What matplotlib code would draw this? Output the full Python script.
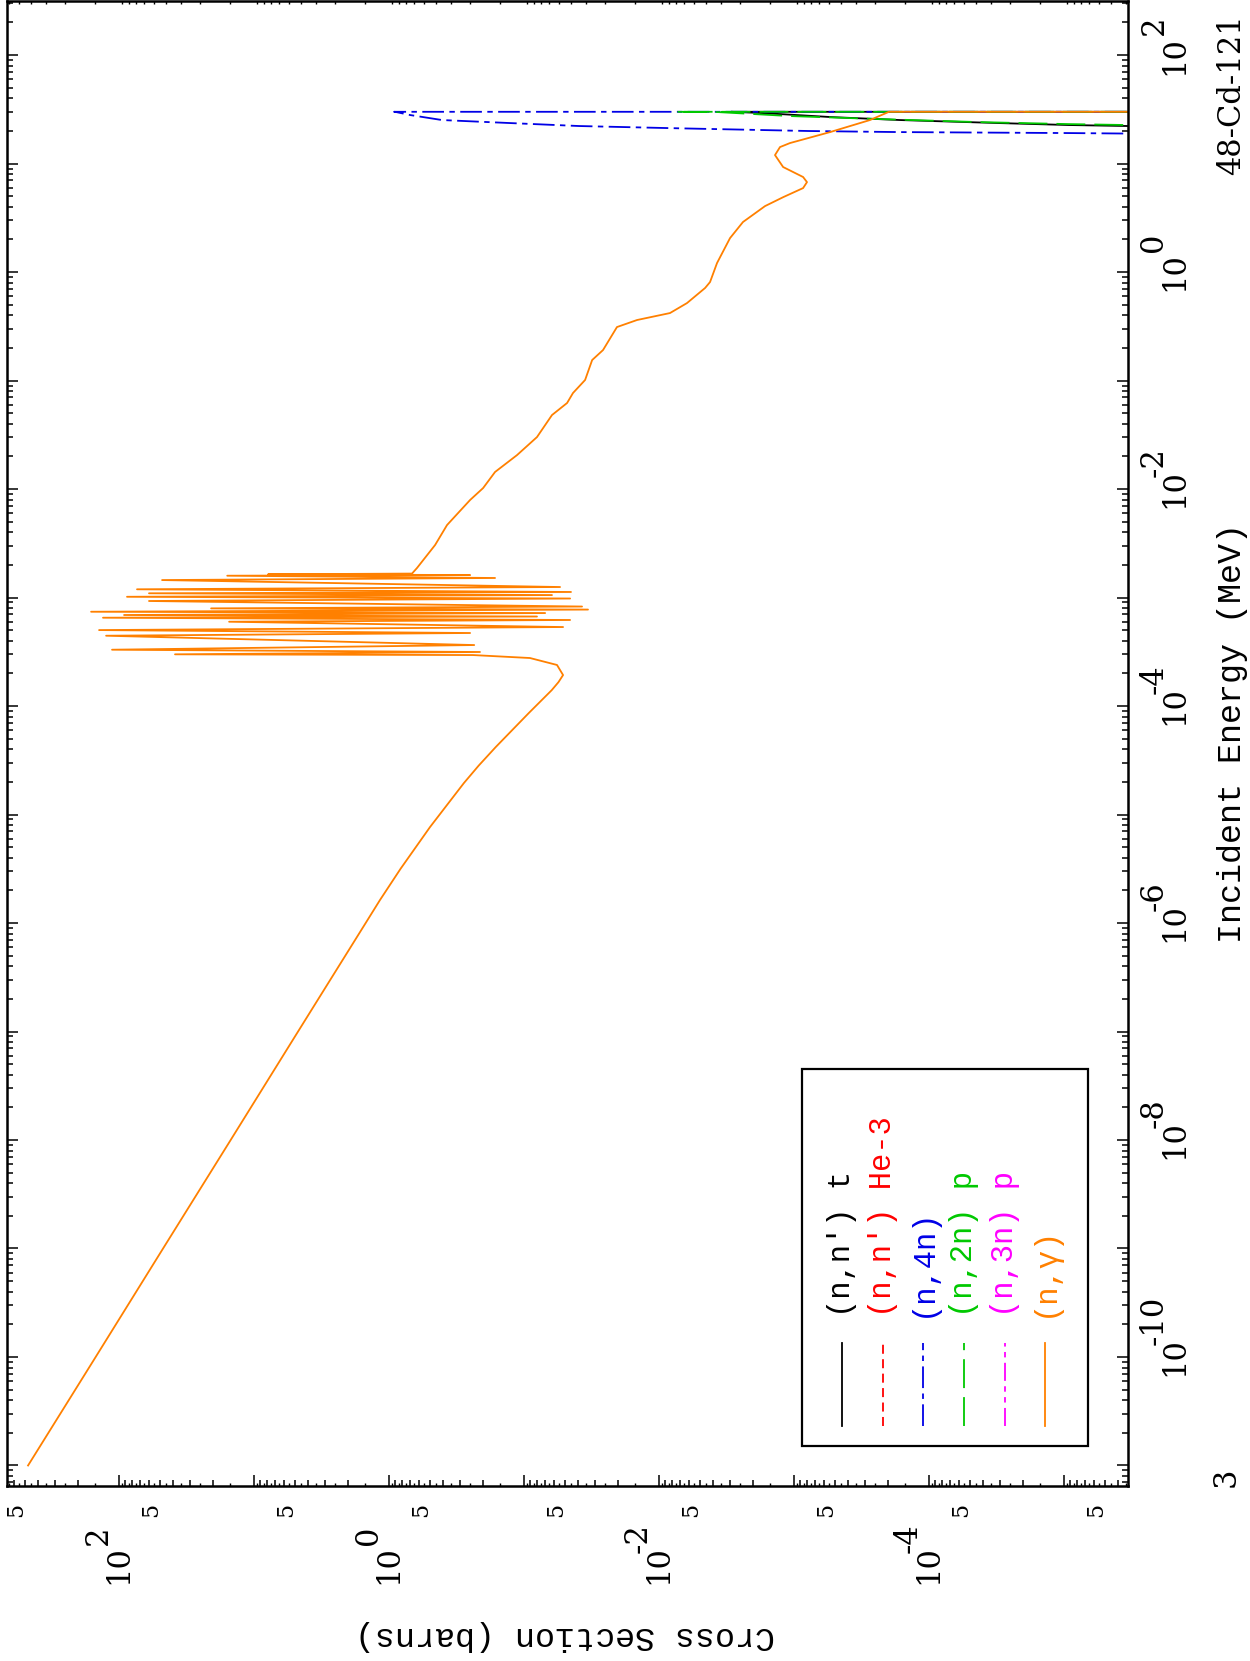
import numpy as np
import matplotlib
matplotlib.use("Agg")
import matplotlib.pyplot as plt
from matplotlib import transforms
from matplotlib.patches import Rectangle
from matplotlib.lines import Line2D
from matplotlib.ticker import LogLocator, FixedLocator, NullLocator, NullFormatter

# --- data: energy (MeV), cross section (barns) ---
ng_E = [1e-11, 1e-10, 1e-9, 1e-8, 1e-7, 1e-6, 1.63e-6, 3.16e-6, 7.67e-6, 1.95e-5, 2.82e-5,
        4.19e-5, 8.61e-5, 1.40e-4, 1.66e-4, 1.93e-4, 2.39e-4, 2.77e-4, 2.95e-4,
        2.996e-4, 3.148e-4, 3.304e-4, 3.648e-4, 4.446e-4, 4.710e-4, 5.012e-4,
        5.346e-4, 5.984e-4, 6.209e-4, 6.516e-4, 6.683e-4, 6.902e-4, 7.194e-4,
        7.396e-4, 7.745e-4, 7.943e-4, 8.260e-4, 9.290e-4, 9.795e-4, 1.016e-3,
        1.054e-3, 1.094e-3, 1.125e-3, 1.191e-3, 1.250e-3, 1.449e-3, 1.514e-3,
        1.589e-3, 1.611e-3, 1.637e-3, 1.663e-3,
        1.871e-3, 3.048e-3, 4.656e-3, 6.012e-3, 7.925e-3, 0.01021, 0.01436,
        0.02056, 0.03013, 0.04808, 0.06209, 0.07674, 0.1012, 0.1545, 0.1910,
        0.3112, 0.3614, 0.4188, 0.5176, 0.7129, 0.8091, 1.211, 2.056, 2.891,
        4.055, 4.909, 5.943, 6.745, 7.516, 9.290, 11.97, 14.19, 15.45, 19.50,
        25.18, 30.0, 30.0]
ng_xs = [472, 149, 47.2, 14.9, 4.72, 1.49, 1.167, 0.822, 0.497, 0.279, 0.217,
         0.162, 0.0923, 0.0624, 0.0556, 0.0514, 0.0570, 0.0904, 0.239,
         38.5, 0.212, 112.7, 0.234, 124.7, 0.251, 140.6,
         0.0514, 15.3, 0.0456, 131.5, 0.0802, 91.8, 0.0698,
         161.1, 0.0336, 20.8, 0.0372, 60.0, 0.0456, 87.3,
         0.0621, 60.0, 0.0449, 73.6, 0.0541, 48.0, 0.164,
         15.8, 0.251, 7.87, 0.676,
         0.621, 0.456, 0.372, 0.308, 0.251, 0.201, 0.164,
         0.1127, 0.0802, 0.0621, 0.0480, 0.0434, 0.0353, 0.0313, 0.0260,
         0.0205, 0.01455, 0.00830, 0.00621, 0.00456, 0.00419, 0.00372, 0.00298, 0.00239,
         0.00164, 0.00120, 8.57e-4, 8.02e-4, 8.57e-4, 1.205e-3, 1.384e-3, 1.271e-3, 1.072e-3, 5.41e-4,
         2.74e-4, 1.98e-4, 1e-9]

nnt_E = [21.9, 22.18, 22.65, 23.6, 25.18, 26.85, 29.2, 30.0, 30.0]
nnt_xs = [1e-6, 3.36e-6, 9.18e-6, 2.98e-5, 1.64e-4, 5.41e-4, 1.70e-3, 2.93e-3, 1e-9]

n4n_E = [18.7, 18.9, 19.1, 19.5, 19.95, 21.2, 22.18, 23.6, 25.18, 28.0, 29.85, 30.0, 30.0]
n4n_xs = [1e-6, 3.36e-6, 9.18e-6, 1.64e-4, 7.74e-4, 8.15e-3, 0.0392, 0.125, 0.405, 0.698, 0.887, 0.918, 1e-9]

n2np_E = [22.4, 22.65, 23.1, 24.1, 25.7, 27.4, 29.85, 30.0, 30.0]
n2np_xs = [1e-6, 3.36e-6, 9.18e-6, 4.19e-5, 2.31e-4, 1.072e-3, 3.72e-3, 7.48e-3, 1e-9]

leg_labels = ["(n,n') t", "(n,n') He-3", "(n,4n)", "(n,2n) p", "(n,3n) p", "(n,\u03b3)"]
leg_colors = ["#000000", "#ff0000", "#0000e6", "#00c800", "#ff00ff", "#ff8000"]
leg_styles = ["-", (0, (5, 3)), (0, (12, 3, 3, 3)), (0, (16, 5)), (0, (10, 3, 3, 3, 3, 3)), "-"]

W, H = 1250, 1661
serif = "DejaVu Serif"
mono = "Liberation Mono"


def fx(px):
    return px / W


def fy(py):
    return 1 - py / H


fig = plt.figure(figsize=(W / 100, H / 100), dpi=100)
# rotated page: cross section runs right-to-left, energy bottom-to-top
ax = fig.add_axes([fx(7), fy(1486), fx(1128) - fx(7), (1486 - 1) / H])

ax.plot(nnt_xs, nnt_E, color=leg_colors[0], ls=leg_styles[0], lw=1.3)
ax.plot(n4n_xs, n4n_E, color=leg_colors[2], ls=leg_styles[2], lw=1.3)
ax.plot(n2np_xs, n2np_E, color=leg_colors[3], ls=leg_styles[3], lw=1.3)
ax.plot(ng_xs, ng_E, color=leg_colors[5], ls="-", lw=1.3)

ax.set_xscale("log")
ax.set_yscale("log")
ax.set_xlim(676, 3.36e-6)
ax.set_ylim(6.47e-12, 315)

ax.xaxis.set_major_locator(LogLocator(base=10, numticks=30))
ax.xaxis.set_minor_locator(LogLocator(base=10, subs=np.arange(2, 10), numticks=30))
ax.yaxis.set_major_locator(LogLocator(base=10, numticks=30))
ax.yaxis.set_minor_locator(LogLocator(base=10, subs=np.arange(2, 10), numticks=30))
ax.xaxis.set_minor_formatter(NullFormatter())
ax.yaxis.set_minor_formatter(NullFormatter())
ax.tick_params(which="both", direction="in", top=True, bottom=True, left=True, right=True,
               labelbottom=False, labelleft=False, labeltop=False, labelright=False, width=1.1)
ax.tick_params(which="major", length=8)
ax.tick_params(which="minor", length=4.3)
for s in ax.spines.values():
    s.set_linewidth(1.8)

# half-step ticks (1.5, 2.5, ...) on the cross-section axis
ax2 = ax.twiny()
ax2.set_xscale("log")
ax2.set_xlim(ax.get_xlim())
half = [m * 10.0 ** k for k in range(-6, 3) for m in np.arange(1.5, 10, 1.0)]
ax2.xaxis.set_major_locator(FixedLocator(half))
ax2.xaxis.set_minor_locator(NullLocator())
ax2.tick_params(axis="x", which="major", direction="in", length=2.2, width=1.0,
                top=True, bottom=True, labeltop=False, labelbottom=False)
for s in ax2.spines.values():
    s.set_visible(False)

# energy labels on the right
tr_r = transforms.blended_transform_factory(fig.transFigure, ax.transData)
for k in [2, 0, -2, -4, -6, -8, -10]:
    fig.text(fx(1175), 10.0 ** k, "10", transform=tr_r, rotation=90, ha="center", va="center",
             family=serif, fontsize=22)
    off = 12 if k < 0 else 20
    tr_e = transforms.offset_copy(tr_r, fig=fig, x=-21, y=off, units="dots")
    fig.text(fx(1175), 10.0 ** k, str(k), transform=tr_e, rotation=90, ha="center", va="bottom",
             family=serif, fontsize=22)
fig.text(fx(1226), fy(1477), "3", rotation=90, ha="center", va="center", family=serif, fontsize=22)

# cross-section labels at the bottom
tr_b = transforms.blended_transform_factory(ax.transData, fig.transFigure)
for k in [2, 0, -2, -4]:
    fig.text(10.0 ** k, fy(1565), "10", transform=tr_b, rotation=90, ha="center", va="center",
             family=serif, fontsize=22)
    off = 12 if k < 0 else 20
    tr_e = transforms.offset_copy(tr_b, fig=fig, x=-21, y=off, units="dots")
    fig.text(10.0 ** k, fy(1565), str(k), transform=tr_e, rotation=90, ha="center", va="bottom",
             family=serif, fontsize=22)
tr_5 = transforms.offset_copy(tr_b, fig=fig, x=-9, y=0, units="dots")
for k in range(2, -7, -1):
    fig.text(5 * 10.0 ** k, fy(1510), "5", transform=tr_5, rotation=90, ha="center", va="center",
             family=serif, fontsize=16)

fig.text(fx(1232), fy(95), "48-Cd-121", rotation=90, ha="center", va="center",
         family=serif, fontsize=22)
fig.text(fx(1232), fy(733), "Incident Energy (MeV)", rotation=90, ha="center", va="center",
         family=mono, fontsize=24)
fig.text(fx(565), fy(1635), "Cross Section (barns)", rotation=180, ha="center", va="center",
         family=mono, fontsize=24)

# legend, drawn by hand because it is turned on its side
fig.add_artist(Rectangle((fx(802), fy(1446)), fx(1088) - fx(802), (1446 - 1069) / H,
                         transform=fig.transFigure, fill=False, lw=1.6, ec="black"))
leg_x = [842, 883, 923, 964, 1005, 1045]
for i in range(len(leg_labels)):
    fig.add_artist(Line2D([fx(leg_x[i]), fx(leg_x[i])], [fy(1426), fy(1343)],
                          transform=fig.transFigure, color=leg_colors[i], ls=leg_styles[i], lw=1.3))
    fig.text(fx(leg_x[i]), fy(1317), leg_labels[i], rotation=90, ha="center", va="bottom",
             color=leg_colors[i], family=mono, fontsize=22)

fig.savefig("out.png", dpi=100)
